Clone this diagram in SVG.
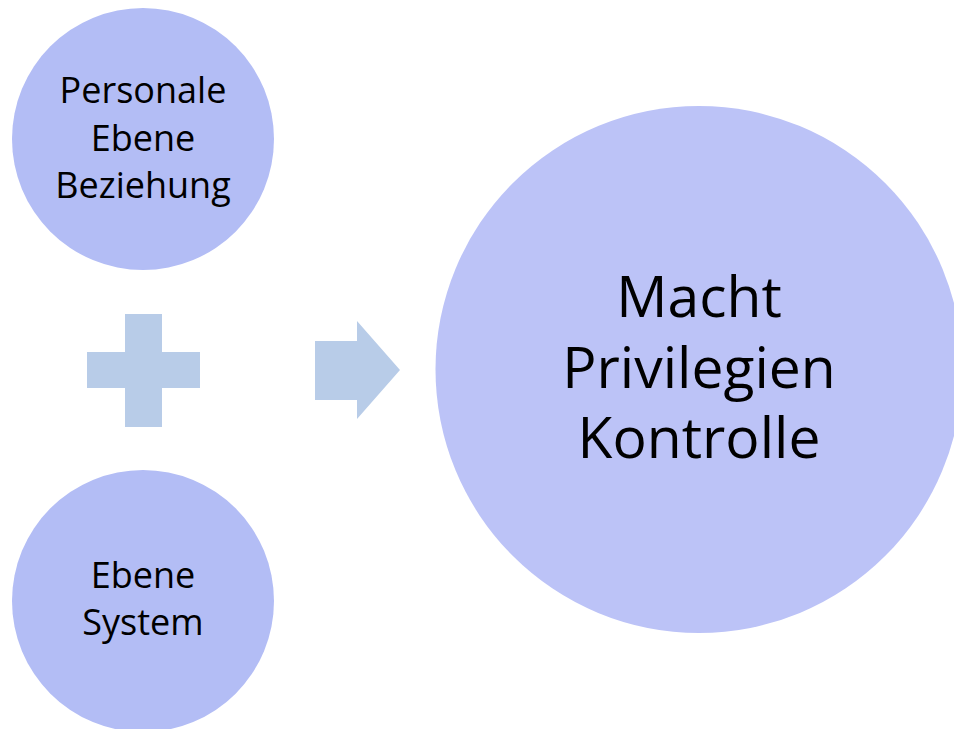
<svg xmlns="http://www.w3.org/2000/svg" width="954" height="729" viewBox="0 0 954 729">
<style>
.small{fill:#b3bdf5}
.big{fill:#bcc3f7}
.sym{fill:#b8cce8}
text{font-family:"Open Sans","Noto Sans",sans-serif;fill:#000;text-anchor:middle}
.t1{font-size:36px}
.t2{font-size:57px}
</style>
<rect width="954" height="729" fill="#ffffff"/>
<g id="node-personal">
<circle class="small" cx="143" cy="139" r="131"/>
<text class="t1" x="143" y="103">Personale</text>
<text class="t1" x="143" y="151">Ebene</text>
<text class="t1" x="143" y="198">Beziehung</text>
</g>
<g id="node-system">
<circle class="small" cx="143" cy="601" r="131"/>
<text class="t1" x="143" y="588">Ebene</text>
<text class="t1" x="143" y="635">System</text>
</g>
<g id="node-macht">
<circle class="big" cx="699" cy="369.5" r="263.5"/>
<text class="t2" x="699" y="317">Macht</text>
<text class="t2" x="699" y="388">Privilegien</text>
<text class="t2" x="699" y="458">Kontrolle</text>
</g>
<g id="connectors">
<path class="sym" d="M125 314H162V352H200V388H162V427H125V388H87V352H125Z"/>
<path class="sym" d="M315 341H357V321L400 370L357 419V400H315Z"/>
</g>
</svg>
